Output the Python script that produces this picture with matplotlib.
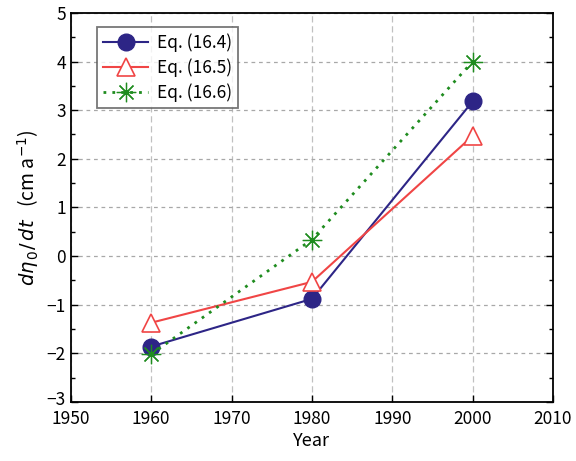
import matplotlib
matplotlib.use("Agg")
import matplotlib.pyplot as plt
import matplotlib.transforms as mtransforms
from matplotlib.ticker import MultipleLocator

years = [1960, 1980, 2000]
eq164 = [-1.86, -0.88, 3.18]
eq165 = [-1.37, -0.53, 2.47]
eq166 = [-2.02, 0.34, 4.00]
labels = ["Eq. (16.4)", "Eq. (16.5)", "Eq. (16.6)"]

plt.rcParams['font.family'] = ['Noto Sans CJK JP', 'DejaVu Sans']
plt.rcParams['mathtext.fontset'] = 'dejavusans'

fig = plt.figure(figsize=(5.76, 4.61), dpi=100)
ax = fig.add_axes([0.123, 0.128, 0.837, 0.844])

ax.plot(years, eq164, '-', color='#2d2586', lw=1.5, marker='o', ms=12,
        mfc='#2d2586', mec='#2d2586', label=labels[0], zorder=3)
ax.plot(years, eq165, '-', color='#f04545', lw=1.5, marker='^', ms=13,
        mfc='white', mec='#f04545', mew=1.2, label=labels[1], zorder=3)
ax.plot(years, eq166, color='#1f8c1f', lw=2, linestyle=(0, (1, 2.2)),
        marker=(8, 2, 0), ms=14, mew=0.9, mec='#1f8c1f', label=labels[2], zorder=3)

ax.set_xlim(1950, 2010)
ax.set_ylim(-3, 5)
ax.xaxis.set_major_locator(MultipleLocator(10))
ax.yaxis.set_major_locator(MultipleLocator(1))
ax.yaxis.set_minor_locator(MultipleLocator(0.5))
ax.tick_params(which='both', direction='in', right=True, top=False, labelsize=12.5)
ax.tick_params(which='major', length=5, width=1)
ax.tick_params(which='minor', length=3, width=1)
ax.tick_params(axis='x', pad=6)
ax.set_yticks(range(-3, 6))
ax.set_yticklabels(['\u22123', '\u22122', '\u22121', '0', '1', '2', '3', '4', '5'])
for s in ax.spines.values():
    s.set_linewidth(1.3)

ax.grid(True, axis='x', which='major', color='#c0c0c0', linestyle=(0, (5, 3)), lw=0.9)
ax.grid(True, axis='y', which='major', color='#a8a8a8', linestyle=(0, (3, 3)), lw=0.9)
ax.set_axisbelow(True)

ax.set_xlabel('Year', fontsize=13, labelpad=3)
ax.set_ylabel(r'$d\eta_{\,0}/\,dt$   (cm a$^{-1}$)', fontsize=14)

leg = ax.legend(loc='upper left', bbox_to_anchor=(0.036, 0.985), fontsize=12.5,
                frameon=True, fancybox=False, edgecolor='#555555',
                handlelength=2.6, borderpad=0.35, labelspacing=0.35,
                handletextpad=0.5)
leg.get_frame().set_linewidth(1.3)

# nudge the lowest y label up a little so it doesn't collide with 1950
fig.canvas.draw()
lab = ax.get_yticklabels()[0]
lab.set_transform(lab.get_transform() + mtransforms.ScaledTranslation(0, 3/72, fig.dpi_scale_trans))

fig.savefig('out.png', dpi=100)
